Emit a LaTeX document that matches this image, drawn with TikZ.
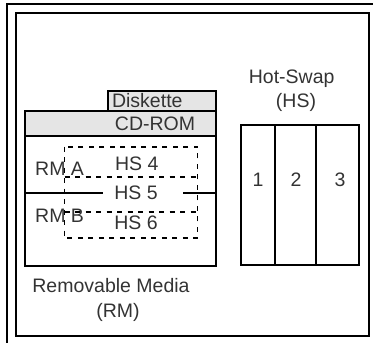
\documentclass[tikz,border=0pt]{standalone}
\usepackage{fontspec}
\setmainfont{Liberation Sans}
\usetikzlibrary{positioning}

\begin{document}
\begin{tikzpicture}[
    x=1pt, y=-1pt,
    font=\fontsize{19.5}{23.5}\selectfont,
    frame/.style={line width=2pt},
    bay/.style={draw, line width=2pt},
    drivebay/.style={draw, line width=2pt, fill=gray!20},
    hsbay/.style={draw, line width=1.8pt, dash pattern=on 5pt off 5.5pt},
    lbl/.style={text=black!80, inner sep=0pt, anchor=base}
    ]

    \useasboundingbox (0,0) rectangle (373,343);

    % Chassis frame
    \draw[frame] (6.8,343) -- (6.8,4.2) -- (373,4.2);
    \draw[frame] (15.8,12.5) rectangle (369.2,336.3);

    % Removable media bays
    \draw[drivebay] (107.5,91) rectangle (216.3,111);
    \draw[drivebay] (24.5,111) rectangle (216.3,136);
    \draw[bay] (24.5,136) rectangle (216.3,265.5);
    \node[lbl] (disk) at (147.3,107.5) {Diskette};
    \node[lbl] (cdrom) at (155,130) {CD-ROM};

    % Hot-swap bays inside RM
    \draw[hsbay] (64.5,146.7) rectangle (197.5,238.3);
    \draw[hsbay] (64.5,176.7) -- (197.5,176.7);
    \draw[hsbay] (64.5,212.3) -- (197.5,212.3);
    \draw[bay] (24.5,192.5) -- (103,192.5);
    \draw[bay] (183,192.5) -- (216.3,192.5);
    \node[lbl, anchor=base west] (rma) at (35,175) {RM A};
    \node[lbl, anchor=base west] (rmb) at (35,222.7) {RM B};
    \node[lbl] (hs4) at (136.7,170.3) {HS 4};
    \node[lbl] (hs5) at (136,199) {HS 5};
    \node[lbl] (hs6) at (136,229.5) {HS 6};

    \node[lbl] (rm) at (111,292.5) {Removable Media};
    \node[lbl] (rmabbr) at (118,317) {(RM)};

    % Hot-swap cage
    \node[lbl] (hot) at (291.7,83) {Hot-Swap};
    \node[lbl] (hsabbr) at (296,107) {(HS)};
    \draw[bay] (241,125) rectangle (359.2,264.5);
    \foreach \x in {275.2,315.8}
        \draw[bay] (\x,125) -- (\x,264.5);
    \foreach \x/\n in {258/1,296/2,340/3}
        \node[lbl] (bay\n) at (\x,186.5) {\n};

\end{tikzpicture}
\end{document}
